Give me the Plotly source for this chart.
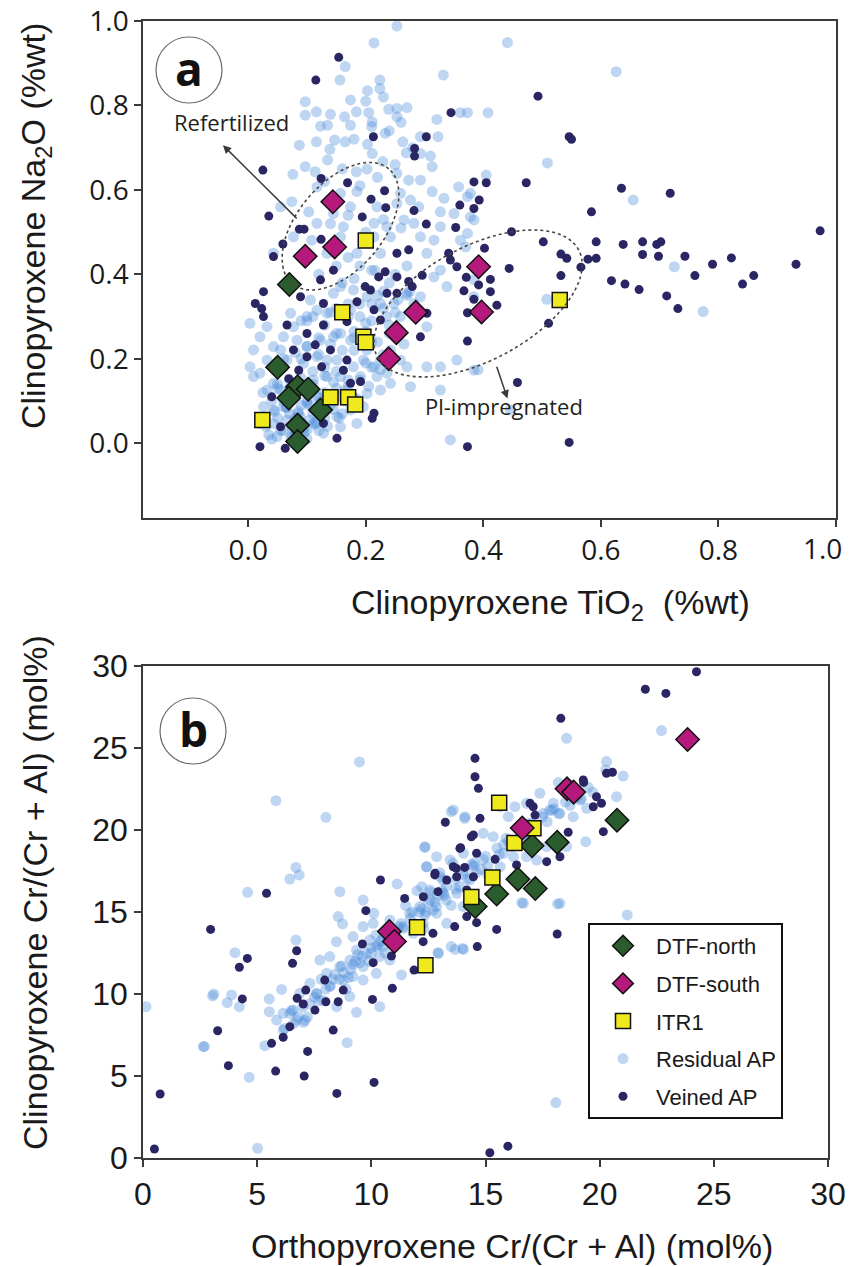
import numpy as np
import plotly.graph_objects as go

W, H = 852, 1267

# ---------------- Panel a data (TiO2 %wt, Na2O %wt) ----------------
a_dtf_north_x = [0.070, 0.050, 0.084, 0.102, 0.069, 0.123, 0.084, 0.084]
a_dtf_north_y = [0.376, 0.180, 0.134, 0.128, 0.107, 0.079, 0.043, 0.004]
a_dtf_south_x = [0.144, 0.147, 0.097, 0.285, 0.252, 0.239, 0.392, 0.397]
a_dtf_south_y = [0.572, 0.465, 0.443, 0.310, 0.262, 0.200, 0.418, 0.311]
a_itr1_x = [0.200, 0.160, 0.196, 0.200, 0.140, 0.170, 0.182, 0.024, 0.530]
a_itr1_y = [0.480, 0.310, 0.252, 0.239, 0.109, 0.109, 0.092, 0.055, 0.339]

a_res_x = [0.253, 0.214, 0.165, 0.156, 0.332, 0.224, 0.224, 0.203, 0.174, 0.097, 0.116, 0.097, 0.140, 0.164,
           0.184, 0.205, 0.239, 0.253, 0.270, 0.321, 0.361, 0.373, 0.123, 0.135, 0.174, 0.211, 0.253, 0.087,
           0.116, 0.147, 0.165, 0.203, 0.233, 0.263, 0.293, 0.323, 0.139, 0.211, 0.229, 0.269, 0.293, 0.310,
           0.097, 0.135, 0.076, 0.114, 0.184, 0.202, 0.253, 0.273, 0.293, 0.313, 0.313, 0.333, 0.358, 0.378,
           0.117, 0.157, 0.185, 0.259, 0.276, 0.055, 0.074, 0.103, 0.145, 0.174, 0.219, 0.253, 0.327, 0.350,
           0.378, 0.117, 0.162, 0.214, 0.236, 0.265, 0.282, 0.327, 0.373, 0.384, 0.077, 0.108, 0.157, 0.214,
           0.242, 0.293, 0.316, 0.361, 0.043, 0.134, 0.185, 0.225, 0.304,
           0.441, 0.626, 0.408, 0.509, 0.405, 0.373, 0.655, 0.725, 0.508, 0.774, 0.391, 0.446, 0.370,
           0.003, 0.009, 0.020, 0.032, 0.043, 0.060, 0.072, 0.077, 0.100, 0.106, 0.117, 0.134, 0.145, 0.157,
           0.174, 0.179, 0.202, 0.225, 0.248, 0.259, 0.270, 0.282, 0.293, 0.304, 0.316, 0.327, 0.338, 0.384,
           0.384, 0.009, 0.032, 0.055, 0.083, 0.100, 0.123, 0.145, 0.157, 0.174, 0.191, 0.202, 0.225, 0.242,
           0.259, 0.270, 0.304, 0.327, 0.355, 0.384, 0.003, 0.020, 0.043, 0.066, 0.094, 0.117, 0.134, 0.151,
           0.179, 0.196, 0.214, 0.236, 0.032, 0.055, 0.089, 0.111, 0.134, 0.157, 0.191, 0.219, 0.242, 0.026,
           0.043, 0.060, 0.100, 0.117, 0.157, 0.179, 0.202, 0.225, 0.020, 0.043, 0.066, 0.089, 0.111, 0.134,
           0.151, 0.174, 0.196, 0.049, 0.072, 0.100, 0.128, 0.157, 0.185, 0.344, 0.276, 0.327,
           0.060, 0.080, 0.100, 0.070, 0.090, 0.110, 0.050, 0.130, 0.120, 0.080, 0.060, 0.100, 0.140, 0.040,
           0.030, 0.150, 0.090, 0.070, 0.110, 0.050, 0.130, 0.160, 0.100, 0.040, 0.120, 0.080, 0.060, 0.090,
           0.130, 0.170, 0.180, 0.150, 0.210, 0.190, 0.220, 0.170, 0.240, 0.200, 0.230, 0.120, 0.100, 0.140,
           0.075, 0.095, 0.115, 0.065, 0.085, 0.105, 0.125, 0.145, 0.165, 0.185, 0.205, 0.225, 0.245, 0.265,
           0.180, 0.200, 0.160, 0.210, 0.230, 0.250, 0.190, 0.170, 0.215, 0.235, 0.255, 0.275,
           0.035, 0.055, 0.075, 0.095, 0.115, 0.135, 0.155, 0.045, 0.065, 0.085, 0.105, 0.125, 0.145, 0.165,
           0.185, 0.025, 0.050, 0.070, 0.090, 0.110, 0.130, 0.150, 0.170, 0.190, 0.210, 0.060, 0.080, 0.100,
           0.120, 0.140, 0.160, 0.180, 0.200, 0.220, 0.240, 0.090, 0.110, 0.130, 0.150, 0.170, 0.190, 0.210,
           0.230, 0.250, 0.270,
           0.120, 0.150, 0.180, 0.210, 0.240, 0.270, 0.140, 0.170, 0.200, 0.230, 0.260, 0.290, 0.130, 0.160,
           0.190, 0.220, 0.250, 0.280, 0.180, 0.210, 0.240, 0.200, 0.230, 0.260]
a_res_y = [0.988, 0.948, 0.892, 0.860, 0.872, 0.860, 0.840, 0.835, 0.813, 0.809, 0.785, 0.777, 0.779, 0.773,
           0.785, 0.783, 0.791, 0.793, 0.795, 0.767, 0.783, 0.783, 0.751, 0.753, 0.753, 0.761, 0.773, 0.706,
           0.714, 0.718, 0.714, 0.708, 0.734, 0.714, 0.726, 0.726, 0.696, 0.686, 0.667, 0.688, 0.686, 0.680,
           0.655, 0.671, 0.637, 0.643, 0.643, 0.649, 0.639, 0.623, 0.623, 0.655, 0.596, 0.580, 0.607, 0.592,
           0.607, 0.592, 0.596, 0.592, 0.576, 0.560, 0.572, 0.548, 0.544, 0.560, 0.560, 0.568, 0.548, 0.544,
           0.536, 0.521, 0.513, 0.521, 0.513, 0.529, 0.521, 0.513, 0.497, 0.529, 0.489, 0.481, 0.489, 0.489,
           0.489, 0.489, 0.481, 0.481, 0.450, 0.450, 0.450, 0.450, 0.450,
           0.949, 0.880, 0.783, 0.664, 0.635, 0.584, 0.576, 0.418, 0.341, 0.312, 0.174, 0.079, 0.465,
           0.284, 0.158, 0.252, 0.276, 0.229, 0.252, 0.308, 0.276, 0.300, 0.339, 0.315, 0.308, 0.355, 0.371,
           0.315, 0.363, 0.347, 0.331, 0.331, 0.300, 0.355, 0.331, 0.347, 0.276, 0.394, 0.410, 0.371, 0.387,
           0.347, 0.221, 0.197, 0.221, 0.244, 0.229, 0.244, 0.252, 0.260, 0.244, 0.252, 0.221, 0.197, 0.221,
           0.197, 0.181, 0.181, 0.181, 0.197, 0.173, 0.181, 0.166, 0.142, 0.197, 0.189, 0.205, 0.197, 0.197,
           0.181, 0.197, 0.181, 0.166, 0.126, 0.126, 0.142, 0.150, 0.158, 0.158, 0.158, 0.158, 0.142, 0.087,
           0.079, 0.087, 0.095, 0.110, 0.110, 0.110, 0.118, 0.126, 0.047, 0.047, 0.055, 0.063, 0.047, 0.079,
           0.063, 0.079, 0.087, 0.016, 0.016, 0.031, 0.024, 0.039, 0.047, 0.008, 0.134, 0.126,
           0.100, 0.120, 0.100, 0.070, 0.050, 0.070, 0.060, 0.120, 0.030, 0.020, 0.030, 0.140, 0.090, 0.100,
           0.040, 0.130, 0.090, 0.150, 0.170, 0.130, 0.060, 0.070, 0.010, 0.010, 0.110, 0.060, 0.180, 0.200,
           0.180, 0.150, 0.220, 0.260, 0.240, 0.300, 0.350, 0.330, 0.280, 0.190, 0.210, 0.250, 0.290, 0.310,
           0.035, 0.025, 0.045, 0.085, 0.075, 0.055, 0.095, 0.145, 0.125, 0.105, 0.135, 0.175, 0.205, 0.235,
           0.265, 0.285, 0.380, 0.330, 0.360, 0.400, 0.420, 0.440, 0.410, 0.300, 0.340, 0.360,
           0.020, 0.030, 0.015, 0.035, 0.050, 0.040, 0.060, 0.075, 0.085, 0.070, 0.090, 0.100, 0.080, 0.100,
           0.090, 0.120, 0.140, 0.130, 0.155, 0.140, 0.160, 0.170, 0.135, 0.150, 0.180, 0.200, 0.215, 0.230,
           0.210, 0.235, 0.220, 0.250, 0.265, 0.240, 0.260, 0.290, 0.300, 0.280, 0.320, 0.300, 0.330, 0.290,
           0.320, 0.310, 0.350,
           0.400, 0.420, 0.390, 0.410, 0.380, 0.420, 0.520, 0.540, 0.500, 0.530, 0.510, 0.560, 0.620, 0.650,
           0.610, 0.630, 0.660, 0.700, 0.720, 0.750, 0.740, 0.810, 0.820, 0.760]

a_vein_x = [0.154, 0.115, 0.345, 0.213, 0.303, 0.283, 0.283, 0.025, 0.169, 0.124, 0.232, 0.384, 0.209, 0.360,
            0.384, 0.234, 0.282, 0.035, 0.194, 0.087, 0.095, 0.303, 0.353, 0.124, 0.253, 0.273, 0.341, 0.059,
            0.493, 0.546, 0.550, 0.405, 0.473, 0.635, 0.718, 0.393, 0.584, 0.448, 0.502, 0.592, 0.638, 0.671,
            0.695, 0.702, 0.402, 0.532, 0.542, 0.578, 0.592, 0.671, 0.698, 0.743, 0.822, 0.973, 0.444, 0.566,
            0.790, 0.932, 0.532, 0.371, 0.412, 0.760, 0.860, 0.841, 0.618, 0.641, 0.665, 0.392, 0.412, 0.367,
            0.384, 0.712, 0.731, 0.423, 0.373, 0.511, 0.373, 0.458, 0.373, 0.546,
            0.043, 0.123, 0.145, 0.222, 0.233, 0.253, 0.273, 0.296, 0.344, 0.355, 0.026, 0.089, 0.185, 0.199,
            0.208, 0.236, 0.253, 0.279, 0.012, 0.023, 0.026, 0.128, 0.214, 0.225, 0.304, 0.128, 0.168, 0.066,
            0.100, 0.114, 0.077, 0.100, 0.140, 0.168, 0.293, 0.086, 0.125, 0.162, 0.040, 0.069, 0.174, 0.191,
            0.214, 0.211, 0.128, 0.055, 0.020, 0.063, 0.151]
a_vein_y = [0.914, 0.860, 0.783, 0.726, 0.726, 0.698, 0.680, 0.647, 0.617, 0.627, 0.598, 0.619, 0.578, 0.564,
            0.556, 0.558, 0.551, 0.538, 0.536, 0.507, 0.507, 0.519, 0.511, 0.483, 0.450, 0.458, 0.450, 0.472,
            0.822, 0.726, 0.720, 0.617, 0.617, 0.604, 0.592, 0.576, 0.548, 0.501, 0.477, 0.477, 0.471, 0.477,
            0.471, 0.477, 0.462, 0.448, 0.438, 0.436, 0.438, 0.447, 0.443, 0.443, 0.439, 0.503, 0.414, 0.417,
            0.424, 0.424, 0.397, 0.393, 0.388, 0.397, 0.397, 0.377, 0.385, 0.377, 0.364, 0.375, 0.359, 0.361,
            0.341, 0.349, 0.319, 0.327, 0.309, 0.284, 0.242, 0.144, -0.008, 0.002,
            0.442, 0.387, 0.410, 0.394, 0.406, 0.394, 0.383, 0.398, 0.434, 0.418, 0.359, 0.347, 0.335, 0.371,
            0.363, 0.355, 0.355, 0.371, 0.331, 0.319, 0.300, 0.331, 0.316, 0.292, 0.308, 0.280, 0.288, 0.280,
            0.260, 0.233, 0.221, 0.205, 0.221, 0.197, 0.252, 0.173, 0.181, 0.173, 0.110, 0.153, 0.142, 0.146,
            0.071, 0.059, 0.047, 0.039, -0.008, -0.012, 0.012]

# ---------------- Panel b data (Opx Cr#, Cpx Cr#, mol%) ----------------
b_dtf_north_x = [14.55, 15.49, 16.42, 17.18, 17.04, 18.14, 20.76]
b_dtf_north_y = [15.33, 16.10, 17.00, 16.43, 19.04, 19.26, 20.60]
b_dtf_south_x = [10.79, 11.01, 16.61, 18.57, 18.86, 23.85]
b_dtf_south_y = [13.81, 13.20, 20.12, 22.51, 22.31, 25.52]
b_itr1_x = [12.00, 12.37, 14.38, 15.30, 15.60, 16.27, 17.10]
b_itr1_y = [14.07, 11.75, 15.92, 17.11, 21.66, 19.21, 20.10]

b_res_x = [5.82, 8.01, 6.70, 6.43, 6.84, 4.58, 8.62, 12.34, 12.41, 13.50, 14.09, 9.64, 11.13, 8.55, 8.74,
           9.64, 8.47, 6.70, 4.03, 10.11, 10.08, 3.05, 3.69, 3.88, 4.22, 5.53, 5.53, 6.07, 0.13, 2.64, 4.65,
           5.34, 8.94, 9.35, 10.37, 7.02, 6.14, 5.02, 11.32, 12.92, 13.50, 14.00, 12.34,
           6.43, 6.87, 7.31, 7.75, 8.04, 8.18, 8.62, 9.06, 9.20, 9.35, 9.79, 9.93, 10.22, 10.52, 10.37, 10.81,
           11.10, 11.39, 11.68, 11.83, 12.12, 12.27, 12.56, 12.85, 13.14, 13.29, 13.58, 13.87, 14.02, 14.31,
           7.60, 8.18, 8.77, 6.14, 6.73, 5.85, 6.58, 8.48, 9.06, 9.64, 10.22, 10.81, 9.64, 9.20,
           2.69, 3.10, 9.48,
           22.71, 18.55, 20.30, 20.27, 21.03, 20.74, 18.19, 18.70, 19.14, 19.43, 17.97, 17.38, 16.80, 16.29,
           17.53, 18.26, 18.84, 19.39, 18.55, 17.68, 17.24, 16.80, 15.78, 15.64, 16.00, 15.34, 14.90, 13.59,
           14.10, 15.05, 15.64, 16.22, 12.35, 12.86, 13.45, 14.03, 12.43, 13.01, 12.21, 18.26, 16.66, 21.21,
           12.57, 13.15, 13.74, 14.32,
           16.59, 18.16, 12.94, 13.67, 14.03, 13.30, 12.86, 18.08,
           7.00, 7.50, 8.00, 8.30, 8.80, 9.20, 9.60, 10.00, 10.40, 10.90, 11.30, 11.70, 12.10, 12.50, 12.90,
           13.30, 13.70, 14.10, 14.50, 15.00, 15.50, 16.00, 16.50, 17.00, 17.50, 18.00, 18.50, 19.00, 19.50,
           7.80, 9.90, 11.00, 12.30, 13.50, 10.60, 8.90, 7.20, 12.00, 13.00, 11.50, 9.40, 10.20, 11.80, 14.80,
           15.80, 16.80, 17.80, 18.80, 6.60, 7.90, 9.00, 10.70, 12.70, 14.40,
           6.2, 6.8, 7.3, 7.7, 8.2, 8.6, 9.1, 9.5, 10.0, 10.5, 10.9, 11.4, 11.9, 12.4, 12.8, 13.2, 13.7,
           14.2, 14.6, 15.1, 15.6, 16.1, 16.6, 17.2, 17.7, 18.2, 18.7, 19.2, 19.7, 6.5, 7.6, 8.4, 9.3, 10.3,
           11.2, 12.2, 13.1, 14.0, 14.9, 15.9, 16.9, 17.9, 18.9, 7.1, 8.7, 10.7, 12.6, 14.5]
b_res_y = [21.79, 20.77, 17.72, 17.01, 17.26, 16.20, 16.24, 18.94, 17.76, 21.12, 20.71, 15.73, 16.71, 14.72,
           14.27, 14.11, 13.19, 13.29, 12.52, 14.92, 14.31, 9.88, 9.47, 9.94, 9.23, 9.70, 8.92, 10.28, 9.23,
           6.79, 4.92, 6.85, 7.03, 8.88, 9.23, 8.27, 8.82, 0.59, 11.16, 12.52, 12.89, 12.78, 14.82,
           8.82, 10.04, 10.65, 12.07, 11.26, 12.28, 11.67, 12.07, 11.06, 12.68, 12.48, 13.29, 12.89, 13.50,
           12.28, 14.51, 13.50, 14.11, 14.92, 13.70, 15.33, 14.31, 16.34, 15.33, 16.95, 15.73, 17.97, 16.54,
           15.33, 16.95, 10.04, 10.45, 10.85, 7.80, 8.41, 8.41, 9.02, 9.23, 9.84, 10.85, 11.26, 12.07, 11.67,
           13.50,
           6.80, 10.00, 24.15,
           26.06, 25.59, 24.17, 23.66, 23.29, 22.03, 22.89, 22.24, 21.83, 21.32, 21.63, 22.24, 21.63, 21.42,
           21.02, 21.02, 20.81, 19.29, 18.98, 18.98, 18.17, 18.37, 18.58, 21.42, 20.81, 19.59, 19.80, 21.22,
           20.81, 17.36, 17.76, 18.37, 18.98, 18.37, 18.17, 18.58, 17.76, 17.15, 16.54, 15.53, 15.53, 14.82,
           15.73, 16.14, 16.14, 15.73,
           15.57, 15.49, 12.48, 12.72, 12.72, 14.31, 14.92, 3.38,
           9.20, 9.80, 10.30, 10.90, 11.30, 11.80, 12.30, 12.80, 13.20, 13.70, 14.30, 14.60, 15.00, 15.60, 16.00,
           16.60, 17.00, 17.50, 18.00, 18.40, 18.90, 19.30, 19.90, 20.40, 20.80, 21.30, 21.70, 22.00, 22.60,
           10.90, 12.00, 13.10, 14.00, 15.40, 12.50, 10.30, 8.60, 16.30, 17.40, 15.40, 12.40, 13.60, 15.00, 17.60,
           19.10, 19.60, 21.20, 22.10, 8.20, 9.60, 11.00, 13.30, 15.10, 17.90,
           7.9, 8.6, 9.4, 9.6, 10.5, 10.9, 11.5, 11.9, 12.5, 12.9, 13.4, 14.0, 14.3, 15.0, 15.6, 16.0, 16.4,
           17.0, 17.4, 17.8, 18.5, 19.0, 19.5, 20.0, 20.5, 21.0, 21.5, 21.9, 22.3, 9.0, 10.0, 11.2, 12.0, 13.0,
           14.1, 15.2, 16.3, 17.3, 18.2, 19.5, 20.4, 21.2, 22.5, 8.4, 11.7, 13.5, 16.2, 17.8]

b_vein_x = [13.24, 13.91, 13.72, 14.09, 12.78, 10.40, 5.41, 14.38, 11.46, 12.92, 9.76, 13.65, 12.70, 12.27,
            2.96, 6.73, 6.55, 4.57, 4.22, 9.61, 10.08, 10.88, 11.87, 10.92, 7.96, 8.77, 7.13, 6.75, 7.02, 7.53,
            8.01, 8.55, 10.05, 4.35, 6.43, 6.14, 5.63, 3.27, 8.33, 7.21, 3.74, 5.81, 7.06, 10.12, 8.49, 0.75,
            0.50,
            24.24, 22.00, 22.90, 18.30, 14.54, 14.54, 14.69, 19.28, 20.30, 20.56, 19.86, 19.72, 20.08, 17.09,
            17.17, 16.95, 14.76, 20.16, 18.62, 14.47, 13.88, 14.61, 17.68, 18.26, 15.42, 16.36, 12.79, 13.59,
            13.30, 13.74, 14.47, 12.28, 14.18,
            14.61, 15.49, 18.14, 14.64, 14.18, 15.19, 15.98, 19.30]
b_vein_y = [20.47, 18.92, 17.66, 17.72, 17.26, 16.95, 16.14, 19.59, 15.83, 16.24, 15.08, 14.11, 13.70, 13.19,
            13.94, 12.64, 11.87, 12.17, 11.63, 13.05, 11.91, 12.32, 11.46, 10.35, 10.85, 10.24, 10.24, 9.74,
            9.39, 9.02, 9.53, 9.53, 9.67, 9.70, 8.01, 7.36, 6.99, 7.76, 7.80, 6.50, 5.63, 5.30, 5.00, 4.61,
            3.94, 3.90, 0.55,
            29.65, 28.58, 28.33, 26.81, 24.37, 23.25, 22.54, 23.05, 23.46, 23.52, 22.03, 21.42, 21.63, 21.42,
            20.91, 21.63, 20.71, 19.90, 19.86, 19.70, 18.88, 18.58, 18.07, 18.37, 18.21, 17.87, 17.36, 17.76,
            16.95, 17.15, 17.15, 15.93, 16.34,
            14.35, 13.94, 13.66, 12.89, 14.72, 0.32, 0.72, 22.90]

a_ticks = [0.0, 0.2, 0.4, 0.6, 0.8, 1.0]
a_ticktext = ["0.0", "0.2", "0.4", "0.6", "0.8", "1.0"]
b_ticks = [0, 5, 10, 15, 20, 25, 30]

# ---------------- Layout geometry (pixels) ----------------
A_L, A_R, A_T, A_B = 143, 836, 21, 518
B_L, B_R, B_T, B_B = 143, 828, 666, 1158
A_XR = [-0.179, 1.0]
A_YR = [-0.177, 1.0]
B_XR = [0, 30]
B_YR = [0, 30]

def px_x(p):
    return p / W

def px_y(p):
    return 1 - p / H

RES_COLOR = "rgba(66,135,218,0.34)"
VEIN_COLOR = "#2a2663"
GREEN = "#2a5c2e"
MAGENTA = "#b4197b"
YELLOW = "#eeea1e"

fig = go.Figure()

def add_panel(xa, ya, res, vein, north, south, itr, show):
    fig.add_trace(go.Scatter(x=res[0], y=res[1], mode="markers", name="Residual AP", xaxis=xa, yaxis=ya,
                             marker=dict(size=11, color=RES_COLOR, line=dict(width=0)),
                             showlegend=show, legendrank=4, legendgroup="g4"))
    fig.add_trace(go.Scatter(x=vein[0], y=vein[1], mode="markers", name="Veined AP", xaxis=xa, yaxis=ya,
                             marker=dict(size=9, color=VEIN_COLOR, line=dict(width=0)),
                             showlegend=show, legendrank=5, legendgroup="g5"))
    fig.add_trace(go.Scatter(x=north[0], y=north[1], mode="markers", name="DTF-north", xaxis=xa, yaxis=ya,
                             marker=dict(size=18, symbol="diamond", color=GREEN, line=dict(width=1.5, color="#111")),
                             showlegend=show, legendrank=1, legendgroup="g1"))
    fig.add_trace(go.Scatter(x=itr[0], y=itr[1], mode="markers", name="ITR1", xaxis=xa, yaxis=ya,
                             marker=dict(size=15, symbol="square", color=YELLOW, line=dict(width=1.5, color="#111")),
                             showlegend=show, legendrank=3, legendgroup="g3"))
    fig.add_trace(go.Scatter(x=south[0], y=south[1], mode="markers", name="DTF-south", xaxis=xa, yaxis=ya,
                             marker=dict(size=18, symbol="diamond", color=MAGENTA, line=dict(width=1.5, color="#111")),
                             showlegend=show, legendrank=2, legendgroup="g2"))

add_panel("x", "y", (a_res_x, a_res_y), (a_vein_x, a_vein_y), (a_dtf_north_x, a_dtf_north_y),
          (a_dtf_south_x, a_dtf_south_y), (a_itr1_x, a_itr1_y), False)
add_panel("x2", "y2", (b_res_x, b_res_y), (b_vein_x, b_vein_y), (b_dtf_north_x, b_dtf_north_y),
          (b_dtf_south_x, b_dtf_south_y), (b_itr1_x, b_itr1_y), True)

axis_common = dict(showline=True, mirror=True, linecolor="#3a3a3a", linewidth=1.5, ticks="outside",
                   ticklen=7, tickwidth=1.5, tickcolor="#3a3a3a", showgrid=False, zeroline=False,
                   fixedrange=True, automargin=False, ticklabeloverflow="allow")
fontA = dict(family="Open Sans, sans-serif", size=28, color="#1a1a1a")
fontB = dict(family="Liberation Sans, Arial, sans-serif", size=32, color="#1a1a1a")

# last x tick label of panel a is placed by hand (right-aligned) so it stays inside the page
a_xticktext = a_ticktext[:-1] + [""]

fig.update_layout(
    width=W, height=H, margin=dict(l=0, r=0, t=0, b=0, autoexpand=False),
    paper_bgcolor="white", plot_bgcolor="white",
    xaxis=dict(domain=[px_x(A_L), px_x(A_R)], range=A_XR, tickvals=a_ticks, ticktext=a_xticktext,
               anchor="y", tickfont=fontA, **axis_common),
    yaxis=dict(domain=[px_y(A_B), px_y(A_T)], range=A_YR, tickvals=a_ticks, ticktext=a_ticktext,
               anchor="x", tickfont=fontA, **axis_common),
    xaxis2=dict(domain=[px_x(B_L), px_x(B_R)], range=B_XR, tickvals=b_ticks, anchor="y2",
                tickfont=fontB, **axis_common),
    yaxis2=dict(domain=[px_y(B_B), px_y(B_T)], range=B_YR, tickvals=b_ticks, anchor="x2",
                tickfont=fontB, **axis_common),
    legend=dict(x=px_x(588), y=px_y(923), xanchor="left", yanchor="top", bgcolor="white",
                bordercolor="#111", borderwidth=2, tracegroupgap=6, itemwidth=56,
                font=dict(family="Liberation Sans, Arial, sans-serif", size=22, color="#1a1a1a"),
                itemsizing="trace"),
)

fig.add_annotation(x=a_ticks[-1], y=px_y(548), xref="x", yref="paper", text=a_ticktext[-1],
                   showarrow=False, xanchor="right", yanchor="middle", xshift=8, font=fontA)

# ---------------- Ellipses (dotted) ----------------
ax_px_per_unit_x = (A_R - A_L) / (A_XR[1] - A_XR[0])
ax_px_per_unit_y = (A_B - A_T) / (A_YR[1] - A_YR[0])

def ellipse_path(cx, cy, a_px, b_px, theta_deg):
    th = np.radians(theta_deg)
    t = np.linspace(0, 2 * np.pi, 120)
    dx = a_px * np.cos(t) * np.cos(th) - b_px * np.sin(t) * np.sin(th)
    dy = a_px * np.cos(t) * np.sin(th) + b_px * np.sin(t) * np.cos(th)
    xs = cx + dx / ax_px_per_unit_x
    ys = cy + dy / ax_px_per_unit_y
    return "M " + " L ".join(f"{x:.5f},{y:.5f}" for x, y in zip(xs, ys)) + " Z"

ellipses = [
    (0.157, 0.514, 75, 43, 50),   # Refertilized
    (0.391, 0.331, 114, 57, 28),  # Pl-impregnated
]
for cx, cy, a_, b_, th in ellipses:
    fig.add_shape(type="path", path=ellipse_path(cx, cy, a_, b_, th), xref="x", yref="y",
                  line=dict(color="#4a4540", width=1.6, dash="dot"))

# ---------------- Panel letters ----------------
for (cxp, cyp, letter) in [(189, 70, "a"), (193, 731, "b")]:
    r = 33
    fig.add_shape(type="circle", xref="paper", yref="paper",
                  x0=px_x(cxp - r), x1=px_x(cxp + r), y0=px_y(cyp + r), y1=px_y(cyp - r),
                  line=dict(color="#6e6a66", width=1.2), fillcolor="white")
    fig.add_annotation(x=px_x(cxp), y=px_y(cyp - 2), xref="paper", yref="paper", text=f"<b>{letter}</b>",
                       xanchor="center", yanchor="middle", showarrow=False,
                       font=dict(family="Open Sans, sans-serif", size=46, color="#111"))

# ---------------- Text annotations & arrows (panel a) ----------------
fig.add_annotation(x=-0.029, y=0.760, xref="x", yref="y", text="Refertilized", showarrow=False,
                   xanchor="center", yanchor="middle",
                   font=dict(family="Open Sans, sans-serif", size=22, color="#231f20"))
fig.add_annotation(x=0.436, y=0.088, xref="x", yref="y", text="Pl-impregnated", showarrow=False,
                   xanchor="center", yanchor="middle",
                   font=dict(family="Open Sans, sans-serif", size=22, color="#231f20"))
arrows = [((-0.043, 0.706), (0.085, 0.529)), ((0.441, 0.106), (0.422, 0.185))]
for (hx, hy), (tx, ty) in arrows:
    fig.add_annotation(x=hx, y=hy, ax=tx, ay=ty, xref="x", yref="y", axref="x", ayref="y", text="",
                       showarrow=True, arrowhead=2, arrowsize=1.1, arrowwidth=1.5, arrowcolor="#3d3935",
                       standoff=0, startstandoff=0)

# ---------------- Axis titles ----------------
title_font = dict(family="Liberation Sans, Arial, sans-serif", size=34, color="#1a1a1a")
titles = [
    (550, 604, "Clinopyroxene TiO<sub>2</sub>\u00a0\u00a0(%wt)", 0),
    (35, 226, "Clinopyroxene Na<sub>2</sub>O (%wt)", -90),
    (512, 1246, "Orthopyroxene Cr/(Cr + Al) (mol%)", 0),
    (35, 893, "Clinopyroxene Cr/(Cr + Al) (mol%)", -90),
]
for xp, yp, txt, ang in titles:
    fig.add_annotation(x=px_x(xp), y=px_y(yp), xref="paper", yref="paper", showarrow=False, font=title_font,
                       text=txt, textangle=ang, xanchor="center", yanchor="middle")

fig.write_html("out.html")
